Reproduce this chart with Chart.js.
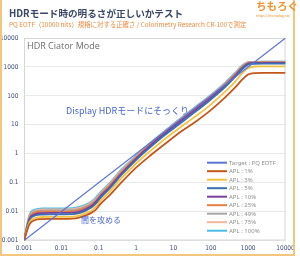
<!DOCTYPE html>
<html>
<head>
<meta charset="utf-8">
<script src="https://cdn.jsdelivr.net/npm/chart.js@4"></script>
<style>
  body { margin: 0; background: #fff; }
  #wrap { position: relative; width: 300px; height: 258px; overflow: hidden; font-family: "Noto Sans CJK JP", "Noto Sans", sans-serif; }
  #frame { position: absolute; left: 0; top: 0; width: 291px; height: 254px; border-left: 2px solid #f4c57c; border-right: 2px solid #f4c57c; border-bottom: 2px solid #f4c57c; }
  .t { position: absolute; white-space: nowrap; line-height: 1; }
  #title { left: 9px; top: 9px; font-size: 9.6px; font-weight: bold; color: #394866; }
  #sub { left: 9px; top: 22px; font-size: 6.4px; color: #ec8a3e; }
  #logo { left: 256px; top: 1px; font-size: 10.5px; font-weight: bold; color: #f0922e; }
  #url { left: 256px; top: 14px; font-size: 3.6px; color: #f0922e; }
  #mode { left: 27px; top: 41px; font-size: 9px; color: #6e6e6e; font-family: "Open Sans", sans-serif; }
  #note1 { left: 66px; top: 106px; font-size: 9px; color: #4a67cf; }
  #note2 { left: 81px; top: 216px; font-size: 8px; color: #4a67cf; }
</style>
</head>
<body>
<div id="wrap">
  <canvas id="chart" width="300" height="258"></canvas>
  <div id="frame"></div>
  <div class="t" id="title">HDRモード時の明るさが正しいかテスト</div>
  <div class="t" id="sub">PQ EOTF（10000 nits）規格に対する正確さ / Colorimetry Research CR-100で測定</div>
  <div class="t" id="logo">ちもろぐ</div>
  <div class="t" id="url">https://chimolog.co/</div>
  <div class="t" id="mode">HDR Ciator Mode</div>
  <div class="t" id="note1">Display HDRモードにそっくり</div>
  <div class="t" id="note2">闇を攻める</div>
</div>
<script>
const tickValues = [0.001, 0.01, 0.1, 1, 10, 100, 1000, 10000];
const tickLabels = ['0.001', '0.01', '0.1', '1', '10', '100', '1000', '10000'];

const targetX = [0.001, 10000];
const targetY = [0.001, 10000];

const signal = [0.001, 0.0014, 0.002, 0.003, 0.005, 0.01, 0.02, 0.03, 0.045, 0.065, 0.085, 0.11, 0.2, 0.4, 1, 2.5, 6, 15, 40, 100, 250, 450, 700, 1000, 1500, 2500, 5000, 10000];

const apl1   = [0.001, 0.0036, 0.0051, 0.0055, 0.0056, 0.0056, 0.0057, 0.0062, 0.0074, 0.0092, 0.012, 0.018, 0.038, 0.1, 0.33, 0.9, 2.2, 5.5, 13, 32, 92, 195, 370, 550, 612, 620, 620, 620];
const apl3   = [0.001, 0.0042, 0.006, 0.0065, 0.0066, 0.0066, 0.0067, 0.0073, 0.0088, 0.011, 0.015, 0.023, 0.05, 0.14, 0.46, 1.3, 3.3, 8, 20, 50, 145, 310, 610, 900, 1035, 1050, 1050, 1050];
const apl5   = [0.001, 0.005, 0.0073, 0.0079, 0.008, 0.008, 0.0081, 0.0089, 0.0108, 0.014, 0.019, 0.029, 0.064, 0.18, 0.6, 1.75, 4.5, 11, 29, 75, 210, 450, 850, 1200, 1290, 1300, 1300, 1300];
const apl10  = [0.001, 0.0055, 0.0082, 0.0089, 0.009, 0.009, 0.0092, 0.01, 0.0122, 0.016, 0.022, 0.033, 0.072, 0.2, 0.68, 2.0, 5.1, 13, 34, 85, 235, 500, 930, 1300, 1380, 1390, 1390, 1390];
const apl25  = [0.001, 0.006, 0.0092, 0.0099, 0.01, 0.01, 0.0102, 0.0112, 0.0135, 0.0175, 0.024, 0.036, 0.08, 0.22, 0.74, 2.15, 5.5, 14, 37, 92, 255, 540, 990, 1360, 1430, 1440, 1440, 1440];
const apl49  = [0.001, 0.0065, 0.01, 0.0108, 0.011, 0.011, 0.0111, 0.0122, 0.0148, 0.019, 0.026, 0.039, 0.087, 0.24, 0.78, 2.3, 5.9, 15, 40, 100, 275, 590, 1070, 1440, 1500, 1510, 1510, 1510];
const apl75  = [0.001, 0.007, 0.0108, 0.0118, 0.012, 0.012, 0.0121, 0.0133, 0.016, 0.021, 0.028, 0.042, 0.094, 0.26, 0.8, 2.35, 6.0, 15.5, 41, 103, 285, 600, 1090, 1430, 1470, 1480, 1480, 1480];
const apl100 = [0.001, 0.0077, 0.0118, 0.0128, 0.013, 0.013, 0.0132, 0.0145, 0.0175, 0.023, 0.031, 0.046, 0.1, 0.28, 0.85, 2.45, 6.3, 16.2, 43, 108, 300, 630, 1140, 1470, 1500, 1510, 1510, 1510];

const seriesNames = ['Target : PQ EOTF', 'APL : 1%', 'APL : 3%', 'APL : 5%', 'APL : 10%', 'APL : 25%', 'APL : 49%', 'APL : 75%', 'APL : 100%'];
const seriesColors = ['#5b74d6', '#c4561a', '#f5c342', '#3a6fb0', '#7b3fa0', '#e87d3e', '#a6a6a6', '#f4b59a', '#4bbbe6'];

const pts = (xs, ys) => xs.map((x, i) => ({ x, y: ys[i] }));

const measured = [apl1, apl3, apl5, apl10, apl25, apl49, apl75, apl100];
const datasets = [{
  label: seriesNames[0],
  data: pts(targetX, targetY),
  borderColor: seriesColors[0],
  borderWidth: 1.2,
  pointRadius: 0,
}].concat(measured.map((ys, i) => ({
  label: seriesNames[i + 1],
  data: pts(signal, ys),
  borderColor: seriesColors[i + 1],
  borderWidth: 1.8,
  pointRadius: 0,
  cubicInterpolationMode: 'monotone',
})));

const tickFont = { family: "'Liberation Sans Narrow', 'DejaVu Sans Condensed', sans-serif", size: 6.5 };
const tickColor = '#3d4f78';

// plot frame + legend inside the plot
const framePlugin = {
  id: 'frameBox',
  beforeDatasetsDraw(chart) {
    const { ctx, chartArea: a } = chart;
    ctx.save();
    ctx.strokeStyle = '#d6d6d6';
    ctx.lineWidth = 1;
    ctx.strokeRect(a.left + 0.5, a.top + 0.5, a.right - a.left - 1, a.bottom - a.top - 1);
    ctx.restore();
  },
  afterDatasetsDraw(chart) {
    const { ctx } = chart;
    ctx.save();
    ctx.font = "6px 'Noto Sans', sans-serif";
    ctx.textBaseline = 'middle';
    chart.data.datasets.forEach((ds, i) => {
      const y = 162.7 + i * 8.5;
      ctx.strokeStyle = ds.borderColor;
      ctx.lineWidth = 2;
      ctx.beginPath();
      ctx.moveTo(207, y);
      ctx.lineTo(227, y);
      ctx.stroke();
      ctx.fillStyle = '#8e8e8e';
      ctx.fillText(ds.label, 229, y + 0.3);
    });
    ctx.restore();
  },
};

new Chart(document.getElementById('chart'), {
  type: 'line',
  data: { datasets },
  options: {
    responsive: false,
    animation: false,
    devicePixelRatio: 1,
    layout: { padding: { left: 0, right: 14.5, top: 38, bottom: 0 } },
    plugins: { legend: { display: false }, tooltip: { enabled: false } },
    scales: {
      x: {
        type: 'logarithmic',
        min: 0.001,
        max: 10000,
        afterBuildTicks: s => { s.ticks = tickValues.map(v => ({ value: v })); },
        afterFit: s => { s.height = 17.5; },
        grid: { display: false, drawTicks: false },
        border: { display: false },
        ticks: {
          padding: 4,
          color: tickColor,
          font: tickFont,
          maxRotation: 0,
          callback: v => tickLabels[tickValues.indexOf(v)],
        },
      },
      y: {
        type: 'logarithmic',
        min: 0.001,
        max: 10000,
        afterBuildTicks: s => { s.ticks = tickValues.map(v => ({ value: v })); },
        afterFit: s => { s.width = 24; },
        grid: { color: '#e9e9e9', drawTicks: false },
        border: { display: false },
        ticks: {
          padding: 5.5,
          color: tickColor,
          font: tickFont,
          callback: v => tickLabels[tickValues.indexOf(v)],
        },
      },
    },
  },
  plugins: [framePlugin],
});
</script>
</body>
</html>
